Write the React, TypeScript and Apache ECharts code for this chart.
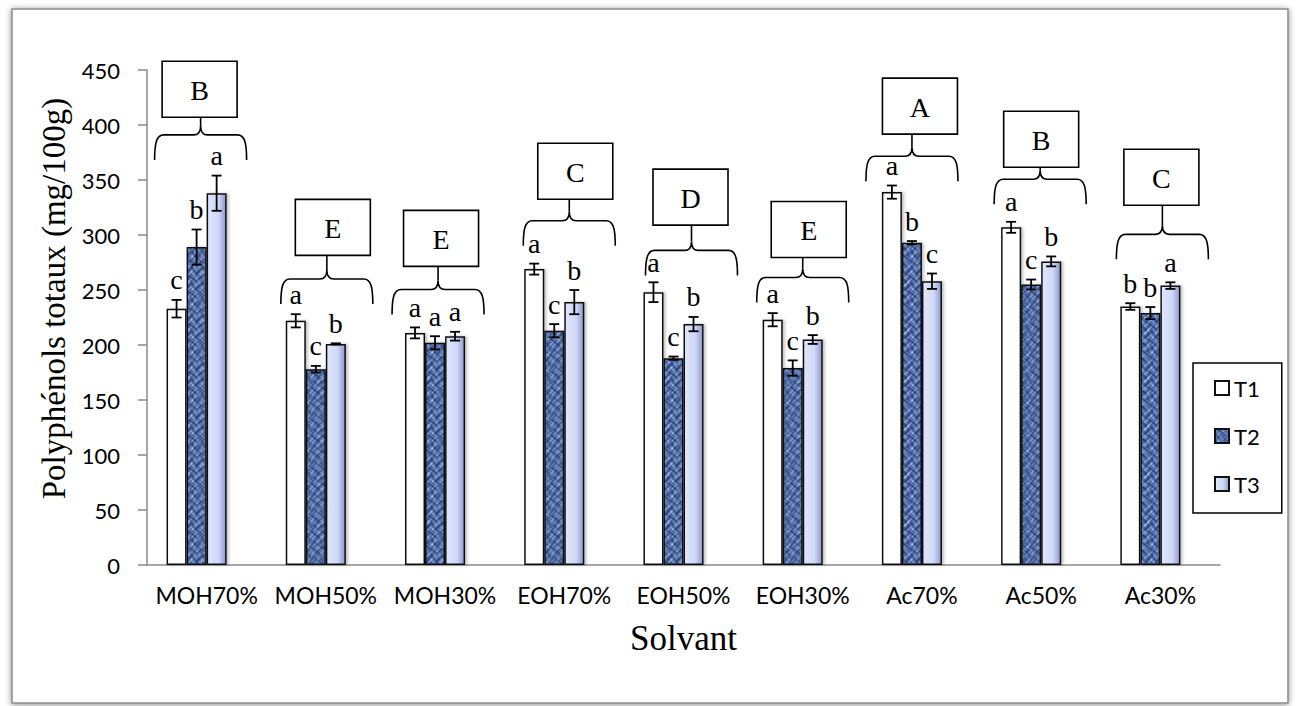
import React, { useEffect, useRef } from "react";
import * as echarts from "echarts";

// Solvents tested
const categories = ["MOH70%", "MOH50%", "MOH30%", "EOH70%", "EOH50%", "EOH30%", "Ac70%", "Ac50%", "Ac30%"];

// Total polyphenols (mg/100g) with standard deviations and significance letters
const t1Values = [233, 222, 211, 269, 248, 223, 339, 307, 235];
const t1Errors = [8, 6, 5, 5, 9, 6, 6, 5, 3];
const t1Letters = ["c", "a", "a", "a", "a", "a", "a", "a", "b"];

const t2Values = [289, 178, 202, 213, 188, 179, 293, 255, 229];
const t2Errors = [16, 3, 6, 6, 1.5, 7, 1.5, 4.5, 5.5];
const t2Letters = ["b", "c", "a", "c", "c", "c", "b", "c", "b"];

const t3Values = [338, 201, 208, 239, 219, 205, 258, 276, 254];
const t3Errors = [16, 0.5, 4, 11, 6.5, 4, 7, 4.5, 3];
const t3Letters = ["a", "b", "a", "b", "b", "b", "c", "b", "a"];

// Solvent-level grouping letters, brace height and box bottom (in mg/100g)
const groupLetters = ["B", "E", "E", "C", "D", "E", "A", "B", "C"];
const braceLevels = [391, 260, 250.5, 313, 286, 261.4, 371.6, 350.7, 300.6];
const boxLevels = [407, 281.5, 271.5, 332.5, 309, 279.6, 391.7, 361.6, 327];

const yMin = 0;
const yMax = 450;
const yStep = 50;

// small horizontal nudges (px) of the hand-placed braces and boxes
const braceShift = [-6, 1, -7, 5, 8, 0, -10, -1, 2];
const boxShift = [-7, 7, -4, 11, 7, 6, -2, 0, 1];

const BAR_FRAC = 0.168;
const SERIF = '"Liberation Serif", "Times New Roman", serif';
const SANS = 'Lato, "Liberation Sans", sans-serif';

echarts.graphic.registerShape(
  "brace",
  echarts.graphic.extendPath(
    "M0,25 C0,8 2,0 9,0 L39,0 C43,0 46,-3 46,-9 C46,-3 49,0 53,0 L83,0 C90,0 92,8 92,25",
    {}
  )
);

// Mottled blue fill used for the T2 bars (periodic so the tile repeats seamlessly)
function makeTexture(): HTMLCanvasElement {
  const n = 48;
  const c = document.createElement("canvas");
  c.width = n;
  c.height = n;
  const ctx = c.getContext("2d")!;
  const img = ctx.createImageData(n, n);
  const w = (2 * Math.PI) / n;
  for (let y = 0; y < n; y++) {
    for (let x = 0; x < n; x++) {
      const t =
        Math.sin(5 * w * x + 2.2 * Math.sin(3 * w * y + 1.3)) +
        Math.sin(6 * w * y + 2.0 * Math.cos(4 * w * x + 0.7)) +
        0.8 * Math.sin(7 * w * (x + y) + 1.7 * Math.sin(2 * w * x)) +
        0.7 * Math.sin(9 * w * (x - y) + 1.9 * Math.cos(3 * w * y)) +
        0.5 * Math.sin(11 * w * x + 13 * w * y);
      let k = (t + 4) / 8;
      k = Math.max(0, Math.min(1, k));
      k = Math.pow(k, 1.6);
      const i = (y * n + x) * 4;
      img.data[i] = Math.round(34 + (178 - 34) * k);
      img.data[i + 1] = Math.round(62 + (200 - 62) * k);
      img.data[i + 2] = Math.round(124 + (240 - 124) * k);
      img.data[i + 3] = 255;
    }
  }
  ctx.putImageData(img, 0, 0);
  return c;
}

export default function App() {
  const ref = useRef<HTMLDivElement>(null);

  useEffect(() => {
    if (!ref.current) return;
    const chart = echarts.init(ref.current, null, { renderer: "svg" });

    const texture = makeTexture();
    const t3Fill = {
      type: "linear",
      x: 0,
      y: 0,
      x2: 1,
      y2: 0,
      colorStops: [
        { offset: 0, color: "#dfe6fd" },
        { offset: 0.6, color: "#cfd8f7" },
        { offset: 1, color: "#8e98ce" },
      ],
    };

    const barStyle = {
      borderColor: "#111",
      borderWidth: 1.5,
      shadowBlur: 3,
      shadowColor: "rgba(0,0,0,0.25)",
      shadowOffsetX: 2,
    };

    const values = [t1Values, t2Values, t3Values];
    const errors = [t1Errors, t2Errors, t3Errors];
    const letters = [t1Letters, t2Letters, t3Letters];
    const slot = [-1.5, -0.5, 0.5];

    const errorSeries = [0, 1, 2].map((s) => ({
      type: "custom",
      z: 5,
      silent: true,
      data: categories.map((_, i) => [i, values[s][i], errors[s][i]]),
      encode: { x: 0, y: 1 },
      renderItem: (params: any, api: any) => {
        const i = api.value(0);
        const v = api.value(1);
        const e = api.value(2);
        const band = api.size([1, 0])[0];
        const base = api.coord([i, v]);
        const x = base[0] + slot[s] * band * BAR_FRAC;
        const yHi = api.coord([i, v + e])[1];
        const yLo = api.coord([i, v - e])[1];
        const cap = 5;
        const ls = { stroke: "#000", lineWidth: 1.8 };
        return {
          type: "group",
          children: [
            { type: "line", shape: { x1: x, y1: yHi, x2: x, y2: yLo }, style: ls },
            { type: "line", shape: { x1: x - cap, y1: yHi, x2: x + cap, y2: yHi }, style: ls },
            { type: "line", shape: { x1: x - cap, y1: yLo, x2: x + cap, y2: yLo }, style: ls },
            {
              type: "text",
              style: {
                text: letters[s][params.dataIndex],
                x,
                y: yHi - 6,
                align: "center",
                verticalAlign: "bottom",
                fontFamily: SERIF,
                fontSize: 28,
                fill: "#000",
              },
            },
          ],
        };
      },
    }));

    chart.setOption({
      animation: false,
      grid: { left: 147, right: 78, top: 70, bottom: 141, containLabel: false },
      legend: {
        data: ["T1", "T2", "T3"],
        orient: "vertical",
        left: 1193,
        top: 363,
        itemWidth: 14,
        itemHeight: 14,
        itemGap: 26,
        icon: "rect",
        padding: [14, 22, 18, 21],
        borderColor: "#000",
        borderWidth: 1.5,
        backgroundColor: "#fff",
        textStyle: { fontFamily: SANS, fontSize: 22, color: "#000" },
      },
      xAxis: {
        type: "category",
        data: categories,
        name: "Solvant",
        nameLocation: "middle",
        nameGap: 56,
        nameTextStyle: { fontFamily: SERIF, fontSize: 35, color: "#000" },
        axisLine: { lineStyle: { color: "#8a8a8a", width: 1.5 } },
        axisTick: { length: 7, lineStyle: { color: "#8a8a8a", width: 1.5 } },
        axisLabel: { interval: 0, margin: 18, fontFamily: SANS, fontSize: 23, color: "#000" },
      },
      yAxis: {
        type: "value",
        min: yMin,
        max: yMax,
        interval: yStep,
        name: "Polyphénols totaux (mg/100g)",
        nameLocation: "middle",
        nameRotate: 90,
        nameGap: 74,
        nameTextStyle: { fontFamily: SERIF, fontSize: 33, color: "#000", padding: [0, 0, 0, 38] },
        axisLine: { show: true, lineStyle: { color: "#8a8a8a", width: 1.5 } },
        axisTick: { show: true, length: 9, lineStyle: { color: "#8a8a8a", width: 1.5 } },
        splitLine: { show: false },
        axisLabel: { margin: 27, fontFamily: SANS, fontSize: 22, color: "#000" },
      },
      series: [
        {
          name: "T1",
          type: "bar",
          barWidth: "16.8%",
          barGap: "0%",
          data: t1Values,
          itemStyle: { ...barStyle, color: "#ffffff" },
        },
        {
          name: "T2",
          type: "bar",
          barWidth: "16.8%",
          barGap: "0%",
          data: t2Values,
          itemStyle: { ...barStyle, color: { image: texture, repeat: "repeat" } },
        },
        {
          name: "T3",
          type: "bar",
          barWidth: "16.8%",
          barGap: "0%",
          data: t3Values,
          itemStyle: { ...barStyle, color: t3Fill },
        },
        {
          // empty slot kept by the workbook layout: groups sit left of the category centre
          name: "reserve",
          type: "bar",
          barWidth: "16.8%",
          barGap: "0%",
          data: categories.map(() => "-"),
        },
        ...errorSeries,
      ],
    });

    // Grouping braces and lettered boxes above each solvent
    const graphics: any[] = [
      {
        type: "rect",
        z: -10,
        silent: true,
        shape: { x: 12, y: 9, width: 1276, height: 694 },
        style: {
          fill: "#fff",
          stroke: "#8a8a8a",
          lineWidth: 1.5,
          shadowBlur: 6,
          shadowColor: "rgba(0,0,0,0.45)",
          shadowOffsetX: 0,
          shadowOffsetY: 1,
        },
      },
    ];
    categories.forEach((_, i) => {
      const bp = chart.convertToPixel({ xAxisIndex: 0, yAxisIndex: 0 }, [i, braceLevels[i]]) as number[];
      const kp = chart.convertToPixel({ xAxisIndex: 0, yAxisIndex: 0 }, [i, boxLevels[i]]) as number[];
      const bx = bp[0] + braceShift[i];
      const by = bp[1];
      const kx = kp[0] + boxShift[i];
      const ky = kp[1];
      graphics.push({
        type: "brace",
        z: 20,
        silent: true,
        x: bx - 46,
        y: by,
        style: { fill: "none", stroke: "#000", lineWidth: 1.6 },
      });
      graphics.push({
        type: "line",
        z: 20,
        silent: true,
        shape: { x1: bx, y1: by - 9, x2: bx, y2: ky },
        style: { stroke: "#000", lineWidth: 1.6 },
      });
      graphics.push({
        type: "rect",
        z: 20,
        silent: true,
        shape: { x: kx - 37.5, y: ky - 56, width: 75, height: 56 },
        style: { fill: "#fff", stroke: "#000", lineWidth: 1.6 },
      });
      graphics.push({
        type: "text",
        z: 21,
        silent: true,
        style: {
          text: groupLetters[i],
          x: kx,
          y: ky - 27,
          align: "center",
          verticalAlign: "middle",
          fontFamily: SERIF,
          fontSize: 28,
          fill: "#000",
        },
      });
    });
    chart.setOption({ graphic: graphics });

    return () => chart.dispose();
  }, []);

  return (
    <div
      ref={ref}
      style={{ position: "fixed", left: 0, top: 0, width: 1298, height: 706, background: "#fff" }}
    />
  );
}
